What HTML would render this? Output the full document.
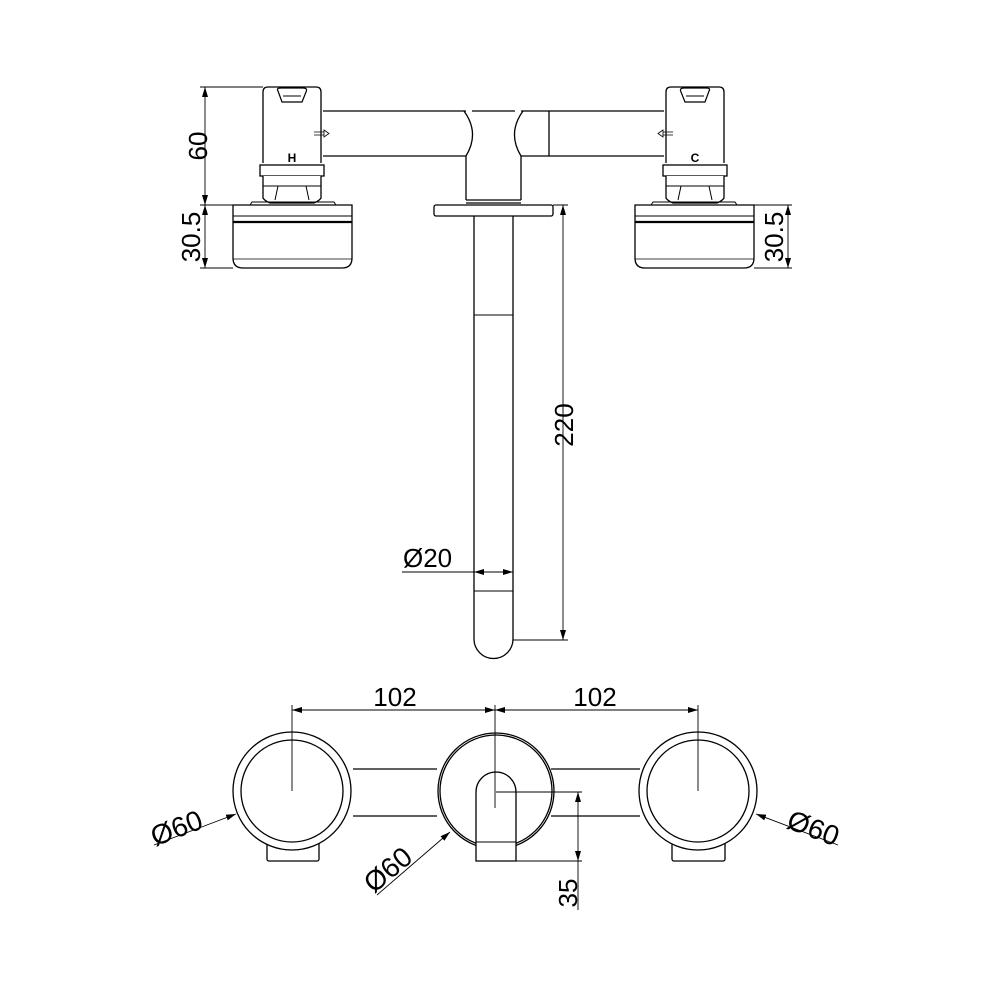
<!DOCTYPE html>
<html><head><meta charset="utf-8"><style>html,body{margin:0;padding:0;background:#fff}svg{display:block}</style></head>
<body>
<svg width="1000" height="1000" viewBox="0 0 1000 1000" xmlns="http://www.w3.org/2000/svg">
<defs>
<marker id="a" viewBox="0 0 10 6" refX="10" refY="3" markerWidth="10" markerHeight="6" orient="auto-start-reverse" markerUnits="userSpaceOnUse"><path d="M0,0L10,3L0,6z" fill="#000"/></marker>
<g id="handle">
  <path d="M263,163 V92 Q263,87 268,87 H316 Q321,87 321,92 V163" fill="#fff" stroke="#000" stroke-width="1.3"/>
  <path d="M278,91 Q276,88 281,88 H303 Q308,88 306,92 L302,102 H282 Z" fill="#fff" stroke="#000" stroke-width="1.2"/>
  <path d="M283,96 H301" stroke="#000" stroke-width="1"/>
  <rect x="260" y="165" width="64" height="11" fill="#fff" stroke="#000" stroke-width="1.3"/>
  <path d="M263,176 V198 Q265,201 270,203 H314 Q319,201 321,198 V176" fill="#fff" stroke="#000" stroke-width="1.3"/>
  <path d="M263,186 H321 M278,186 L275,200 M306,186 L309,200" stroke="#000" stroke-width="1"/>
  <path d="M250,205 L252,202 H334 L336,205" fill="none" stroke="#000" stroke-width="1"/>
  <path d="M233,205 H352 V258 Q352,268 342,268 H243 Q233,268 233,258 Z" fill="#fff" stroke="#000" stroke-width="1.3"/>
  <path d="M233,216 H352" stroke="#000" stroke-width="1"/>
  <path d="M233,222 H352" stroke="#000" stroke-width="2.2"/>
  <path d="M233,259 H352" stroke="#000" stroke-width="0.8"/>
</g>
</defs>
<g fill="none" stroke="#000" stroke-width="1.3">
  <path d="M323,111 H466 M323,156 H466 M521,111 H664 M521,156 H664"/>
  <path d="M549,111 V156" />
  <path d="M321,106 Q306,133 321,161"/>
  <path d="M666,106 Q681,133 666,161"/>
  <path d="M464,111 Q480,133 466,156 V200 M523,111 Q507,133 521,156 V200"/>
  <path d="M472,111 H515"/>
  <path d="M466,200 H521 M466,203 H521"/>
  <rect x="434" y="205" width="119" height="11" rx="2" fill="#fff"/>
  <path d="M474,216 V639 A19.5,19.5 0 0 0 513,639 V216"/>
  <path d="M474,315 H513 M474,591 H513" stroke-width="1"/>
</g>
<use href="#handle"/>
<use href="#handle" transform="translate(987,0) scale(-1,1)"/>
<path d="M314,132 H324 M314,135 H324 M324,130 L329,133.5 L324,137 Z" stroke="#000" stroke-width="0.8" fill="#fff"/>
<path d="M673,132 H663 M673,135 H663 M663,130 L658,133.5 L663,137 Z" stroke="#000" stroke-width="0.8" fill="#fff"/>
<text x="292" y="162" font-family="Liberation Sans, sans-serif" font-size="12" font-weight="bold" text-anchor="middle">H</text>
<text x="695" y="162" font-family="Liberation Sans, sans-serif" font-size="12" font-weight="bold" text-anchor="middle">C</text>

<g stroke="#000" stroke-width="0.9" fill="none">
  <path d="M200,87 H263 M200,205 H233 M200,268 H233"/>
  <path d="M205,87 V205" marker-start="url(#a)" marker-end="url(#a)"/>
  <path d="M205,205 V268" marker-start="url(#a)" marker-end="url(#a)"/>
  <path d="M754,205 H792 M754,268 H792"/>
  <path d="M788,205 V268" marker-start="url(#a)" marker-end="url(#a)"/>
  <path d="M553,205 H568 M513,640 H568"/>
  <path d="M563,205 V640" marker-start="url(#a)" marker-end="url(#a)"/>
  <path d="M402,572 H474"/>
  <path d="M494,572 H474" marker-end="url(#a)"/>
  <path d="M493,572 H513" marker-end="url(#a)"/>
</g>
<g font-family="Liberation Sans, sans-serif" font-size="26" fill="#000">
  <text transform="translate(207,146) rotate(-90)" text-anchor="middle">60</text>
  <text transform="translate(200,237) rotate(-90)" text-anchor="middle">30.5</text>
  <text transform="translate(783,237) rotate(-90)" text-anchor="middle">30.5</text>
  <text transform="translate(573,425) rotate(-90)" text-anchor="middle">220</text>
  <text x="403" y="567">Ø20</text>
  <text x="395" y="706" text-anchor="middle">102</text>
  <text x="595" y="706" text-anchor="middle">102</text>
  <text transform="translate(180,837) rotate(-21)" text-anchor="middle" font-size="28">Ø60</text>
  <text transform="translate(394,877) rotate(-40)" text-anchor="middle" font-size="28">Ø60</text>
  <text transform="translate(810,837) rotate(21)" text-anchor="middle" font-size="28">Ø60</text>
  <text transform="translate(577,893) rotate(-90)" text-anchor="middle">35</text>
</g>

<g fill="none" stroke="#000" stroke-width="1.3">
  <path d="M353,769 H437 M353,816 H437 M551,769 H640 M551,816 H640"/>
  <rect x="267" y="835" width="52" height="26" rx="2" fill="#fff"/>
  <rect x="672" y="835" width="53" height="26" rx="2" fill="#fff"/>
  <circle cx="292" cy="791" r="59" fill="#fff"/>
  <circle cx="292" cy="791" r="51"/>
  <circle cx="698" cy="791" r="59" fill="#fff"/>
  <circle cx="698" cy="791" r="51"/>
  <circle cx="496" cy="791" r="58" fill="#fff"/>
  <circle cx="496" cy="791" r="56"/>
  <path d="M476,861 V792 A20,20 0 0 1 516,792 V861 Z" fill="#fff"/>
  <path d="M476,842 H516" stroke-width="1"/>
</g>
<g stroke="#000" stroke-width="0.9" fill="none">
  <path d="M292,705 V791 M495,705 V808 M698,705 V791"/>
  <path d="M292,710 H495" marker-start="url(#a)" marker-end="url(#a)"/>
  <path d="M495,710 H698" marker-start="url(#a)" marker-end="url(#a)"/>
  <path d="M496,792 H582 M516,861 H582"/>
  <path d="M578,792 V861" marker-start="url(#a)" marker-end="url(#a)"/>
  <path d="M578,861 V910"/>
  <path d="M154,845 L236,814" marker-end="url(#a)"/>
  <path d="M377,895 L450,832" marker-end="url(#a)"/>
  <path d="M838,845 L756,814" marker-end="url(#a)"/>
</g>
</svg>
</body></html>
